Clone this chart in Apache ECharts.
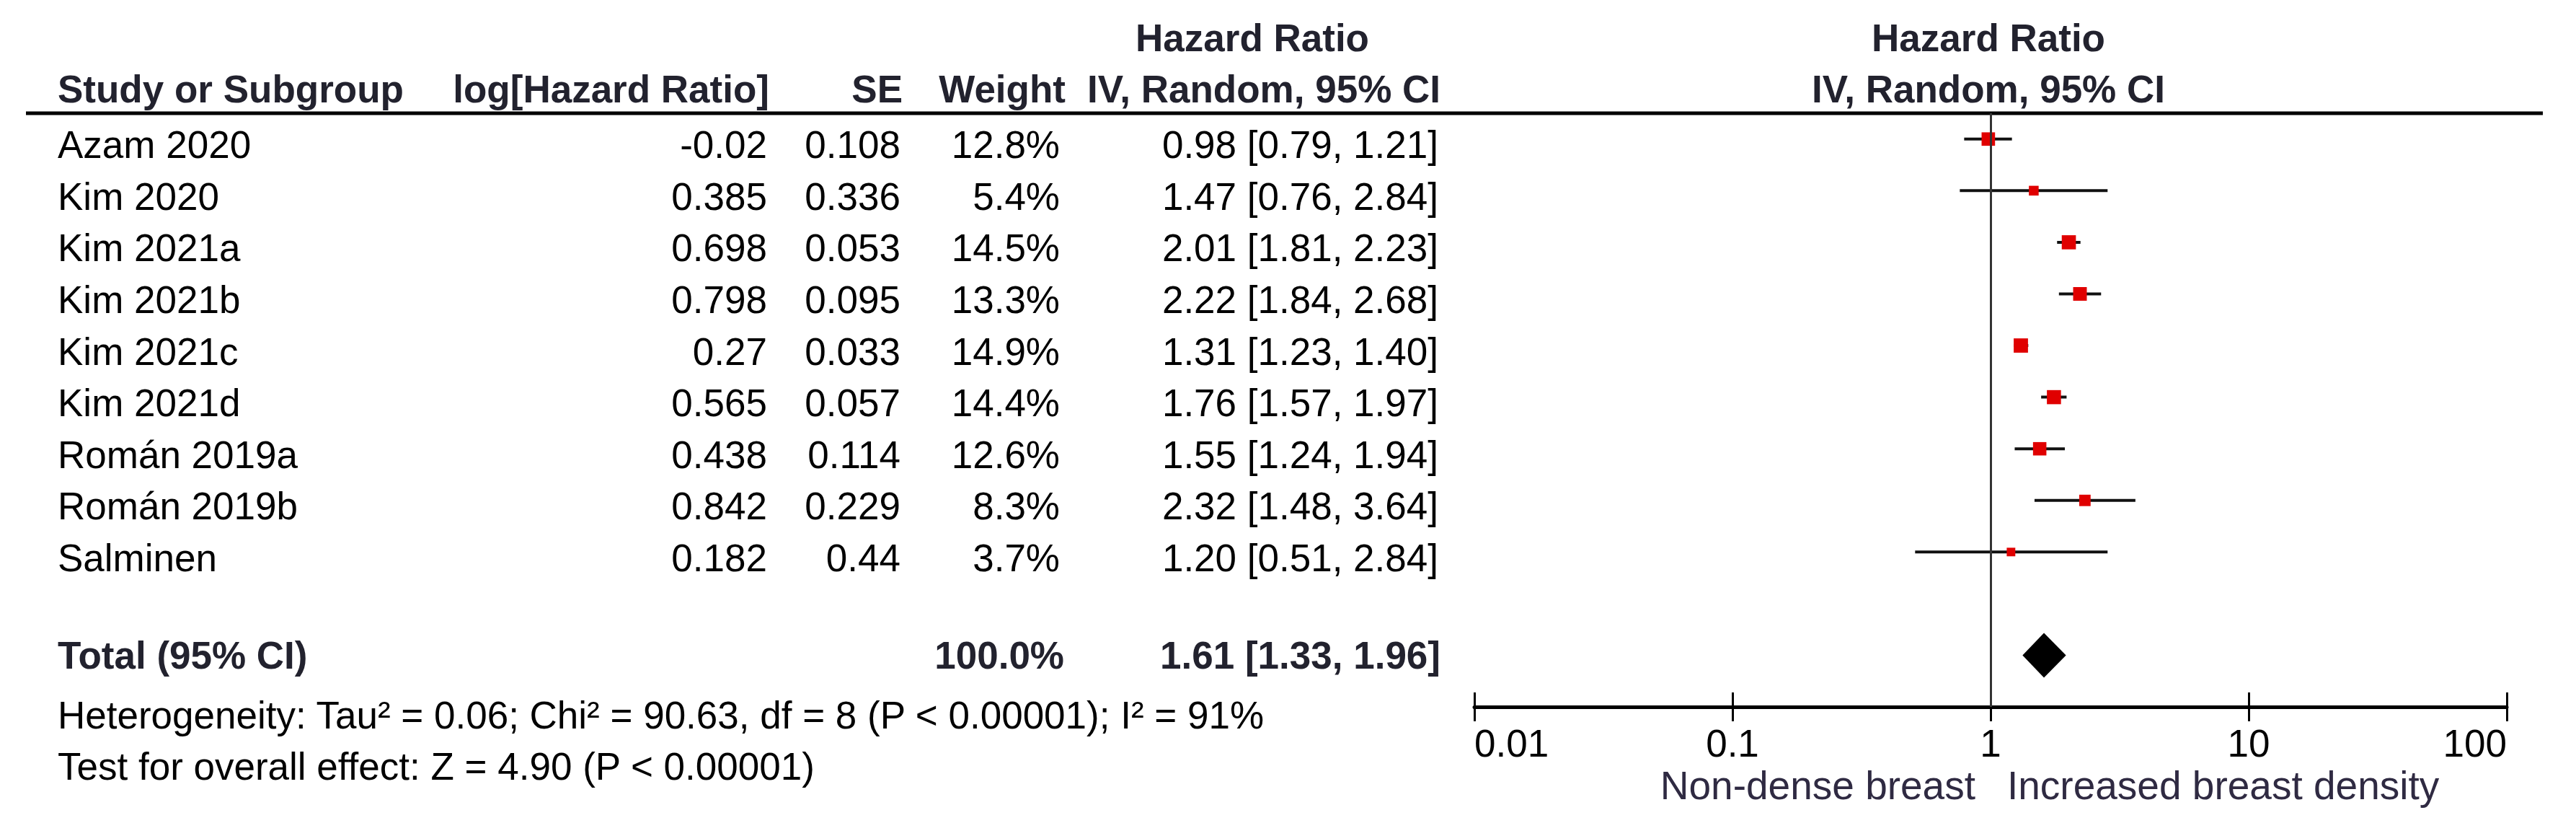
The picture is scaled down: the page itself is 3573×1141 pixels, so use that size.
<!DOCTYPE html>
<html><head><meta charset="utf-8">
<script src="https://cdn.jsdelivr.net/npm/echarts@6/dist/echarts.min.js"></script>
<style>html,body{margin:0;padding:0;background:#fff}#c{width:3573px;height:1141px}</style>
</head><body><div id="c"></div>
<script>
// ---- data ----
const studies = ['Azam 2020','Kim 2020','Kim 2021a','Kim 2021b','Kim 2021c','Kim 2021d','Román 2019a','Román 2019b','Salminen'];
const logHR = ['-0.02','0.385','0.698','0.798','0.27','0.565','0.438','0.842','0.182'];
const seVals = ['0.108','0.336','0.053','0.095','0.033','0.057','0.114','0.229','0.44'];
const weights = [12.8,5.4,14.5,13.3,14.9,14.4,12.6,8.3,3.7];
const hr = [0.98,1.47,2.01,2.22,1.31,1.76,1.55,2.32,1.20];
const ciLow = [0.79,0.76,1.81,1.84,1.23,1.57,1.24,1.48,0.51];
const ciHigh = [1.21,2.84,2.23,2.68,1.40,1.97,1.94,3.64,2.84];
const totalLabel = 'Total (95% CI)';
const totalWeight = [100.0];
const totalHR = [1.61], totalLow = [1.33], totalHigh = [1.96];
const xTickLabels = ['0.01','0.1','1','10','100'];
const heterogeneityText = 'Heterogeneity: Tau² = 0.06; Chi² = 90.63, df = 8 (P < 0.00001); I² = 91%';
const overallText = 'Test for overall effect: Z = 4.90 (P < 0.00001)';
const favoursLeft = 'Non-dense breast', favoursRight = 'Increased breast density';
const headers = ['Study or Subgroup','log[Hazard Ratio]','SE','Weight','Hazard Ratio','IV, Random, 95% CI'];

// ---- layout / style ----
const FONT = '"Liberation Sans", Arial, sans-serif';
const FS = 53;
const HEAD_COLOR = '#22222e';
const LABEL_COLOR = '#2f2a42';
const TOTAL_ROW = 10;
const fmtCI = (h,l,u) => h.toFixed(2) + ' [' + l.toFixed(2) + ', ' + u.toFixed(2) + ']';

const chart = echarts.init(document.getElementById('c'), null, {renderer:'svg'});

function txt(x, y, text, align, bold, color, size) {
  return {type:'text', x:x, y:y, silent:true, style:{text:text, fill:color||'#000', fontFamily:FONT,
    fontSize:size||FS, fontWeight:bold?'bold':'normal', align:align, verticalAlign:'middle'}};
}

const option = {
  backgroundColor:'#fff',
  animation:false,
  grid:{left:2045, right:96, top:157, height:823, containLabel:false},
  xAxis:[
    {type:'log', logBase:10, min:0.01, max:100, splitNumber:4, position:'bottom',
     axisLine:{show:true, onZero:false, lineStyle:{color:'#000', width:5}},
     axisTick:{show:true, inside:false, length:20, lineStyle:{color:'#000', width:3}},
     splitLine:{show:false},
     axisLabel:{show:true, margin:24, fontFamily:FONT, fontSize:FS, color:'#000',
       alignMinLabel:'left', alignMaxLabel:'right',
       formatter:function(v){ const k = Math.round(Math.log10(v)) + 2; return xTickLabels[k] || ''; }}},
    {type:'log', logBase:10, min:0.01, max:100, splitNumber:4, position:'bottom', offset:0,
     axisLine:{show:false, onZero:false}, axisLabel:{show:false}, splitLine:{show:false},
     axisTick:{show:true, inside:true, length:20, lineStyle:{color:'#000', width:3}}}
  ],
  yAxis:{type:'value', min:-0.5, max:11, inverse:true, show:false},
  graphic:[
    {type:'line', silent:true, shape:{x1:36, y1:157, x2:3527, y2:157}, style:{stroke:'#000', lineWidth:5}},
    txt(1737, 52, headers[4], 'center', true, HEAD_COLOR),
    txt(80, 123, headers[0], 'left', true, HEAD_COLOR),
    txt(1067, 123, headers[1], 'right', true, HEAD_COLOR),
    txt(1252, 123, headers[2], 'right', true, HEAD_COLOR),
    txt(1478, 123, headers[3], 'right', true, HEAD_COLOR),
    txt(1998, 123, headers[5], 'right', true, HEAD_COLOR),
    txt(2758, 52, headers[4], 'center', true, HEAD_COLOR),
    txt(2758, 123, headers[5], 'center', true, HEAD_COLOR),
    txt(80, 991, heterogeneityText, 'left', false, '#000'),
    txt(80, 1062, overallText, 'left', false, '#000'),
    txt(2740, 1089, favoursLeft, 'right', false, LABEL_COLOR, 55),
    txt(2784, 1089, favoursRight, 'left', false, LABEL_COLOR, 55)
  ],
  series:[
    {
      type:'custom', name:'studies', xAxisIndex:0, yAxisIndex:0, clip:false, silent:true,
      data: studies.map((s,i)=>[hr[i], i, ciLow[i], ciHigh[i], weights[i]]),
      encode:{x:[0,2,3], y:1},
      renderItem:function(params, api){
        const r = api.value(1);
        const pL = api.coord([api.value(2), r]);
        const pH = api.coord([api.value(3), r]);
        const pC = api.coord([api.value(0), r]);
        const s = 4 + 4.1*Math.sqrt(api.value(4));
        return {type:'group', children:[
          {type:'line', shape:{x1:pL[0], y1:pL[1], x2:pH[0], y2:pH[1]}, style:{stroke:'#111', lineWidth:4}},
          {type:'rect', shape:{x:pC[0]-s/2, y:pC[1]-s/2, width:s, height:s}, style:{fill:'#e00000'}}
        ]};
      },
      markLine:{silent:true, symbol:'none', label:{show:false}, animation:false,
        lineStyle:{color:'#333', width:3, type:'solid'}, data:[{xAxis:1}]}
    },
    {
      type:'custom', name:'total', xAxisIndex:0, yAxisIndex:0, clip:false, silent:true,
      data: totalHR.map((h,i)=>[h, TOTAL_ROW, totalLow[i], totalHigh[i]]),
      encode:{x:[0,2,3], y:1},
      renderItem:function(params, api){
        const r = api.value(1);
        const pL = api.coord([api.value(2), r]);
        const pH = api.coord([api.value(3), r]);
        const pC = api.coord([api.value(0), r]);
        const h = 31;
        return {type:'polygon', shape:{points:[[pL[0],pC[1]],[pC[0],pC[1]-h],[pH[0],pC[1]],[pC[0],pC[1]+h]]}, style:{fill:'#000'}};
      }
    },
    {
      type:'custom', name:'table', xAxisIndex:0, yAxisIndex:0, clip:false, silent:true,
      data: studies.map((s,i)=>[1, i]),
      encode:{x:0, y:1},
      renderItem:function(params, api){
        const i = params.dataIndex;
        const y = api.coord([1, api.value(1)])[1] + 8;
        return {type:'group', children:[
          txt(80, y, studies[i], 'left'),
          txt(1064, y, logHR[i], 'right'),
          txt(1249, y, seVals[i], 'right'),
          txt(1470, y, weights[i].toFixed(1) + '%', 'right'),
          txt(1995, y, fmtCI(hr[i], ciLow[i], ciHigh[i]), 'right')
        ]};
      }
    },
    {
      type:'custom', name:'totalTable', xAxisIndex:0, yAxisIndex:0, clip:false, silent:true,
      data: totalHR.map((h,i)=>[1, TOTAL_ROW]),
      encode:{x:0, y:1},
      renderItem:function(params, api){
        const i = params.dataIndex;
        const y = api.coord([1, api.value(1)])[1];
        return {type:'group', children:[
          txt(80, y, totalLabel, 'left', true, HEAD_COLOR),
          txt(1476, y, totalWeight[i].toFixed(1) + '%', 'right', true, HEAD_COLOR),
          txt(1998, y, fmtCI(totalHR[i], totalLow[i], totalHigh[i]), 'right', true, HEAD_COLOR)
        ]};
      }
    }
  ]
};
chart.setOption(option);
</script>
</body></html>
